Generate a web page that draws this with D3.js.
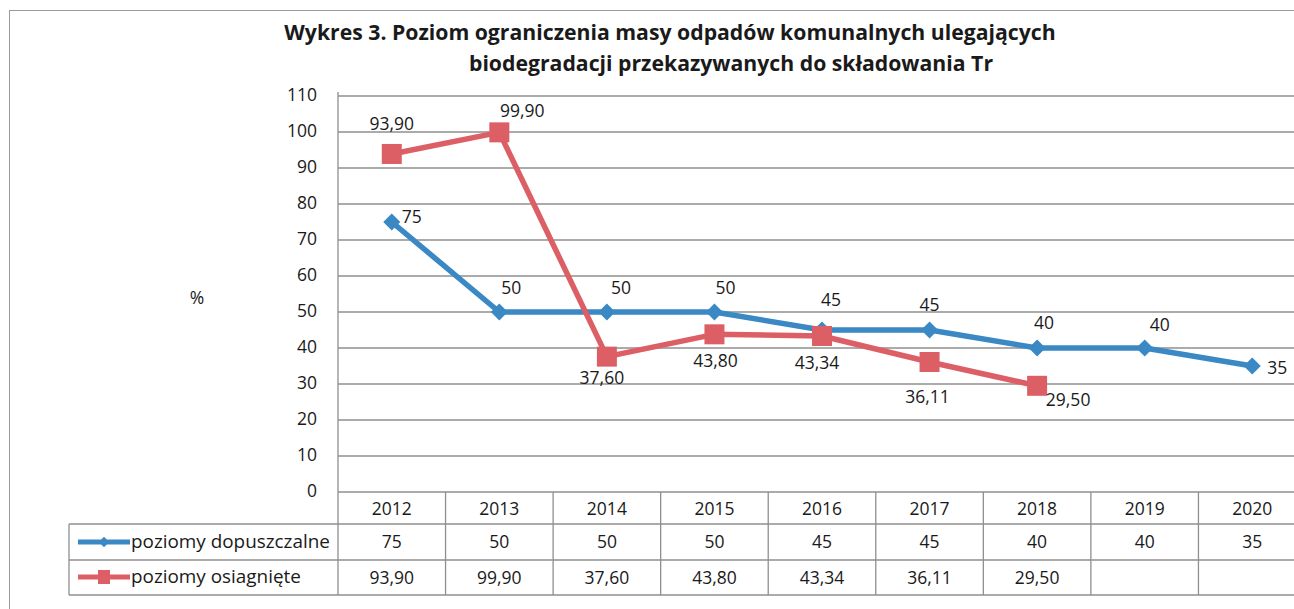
<!DOCTYPE html>
<html><head><meta charset="utf-8">
<script src="https://cdn.jsdelivr.net/npm/d3@7"></script>
<style>
html,body{margin:0;padding:0;background:#fff;}
svg{display:block;}
text{font-family:"Open Sans",sans-serif;fill:#1a1a1a;}
</style></head>
<body>
<svg id="c" width="1294" height="609"></svg>
<script>
const titleLines = ["Wykres 3. Poziom ograniczenia masy odpadów komunalnych ulegających", "biodegradacji przekazywanych do składowania Tr"];
const years = ["2012","2013","2014","2015","2016","2017","2018","2019","2020"];
const seriesNames = ["poziomy dopuszczalne","poziomy osiagnięte"];
const allowed = [75,50,50,50,45,45,40,40,35];
const achieved = [93.90,99.90,37.60,43.80,43.34,36.11,29.50,null,null];
const yTicks = [0,10,20,30,40,50,60,70,80,90,100,110];
const yLabel = "%";
// label placement (dx, dy of label centre relative to point)
const allowedLabelPos = [[20,-5],[12,-24],[14,-24],[11,-24],[9,-30],[0,-25],[7,-25],[15,-23],[25,2]];
const achievedLabelPos = [[0,-30],[23,-21],[-5,21],[1,27],[-5,27],[-2,35],[31,14]];

const fmt = v => v.toFixed(2).replace(".", ",");
const colors = ["#3a89c4", "#dd5f66"];

const svg = d3.select("#c");
const plotL = 338, plotR = 1306, plotT = 96, plotB = 492;
const x = d3.scaleBand().domain(years).range([plotL, plotR]).padding(0);
const y = d3.scaleLinear().domain([0,110]).range([plotB, plotT]);
const cx = d => x(d) + x.bandwidth()/2;
const FS = 17.5;

function fitWidth(sel, target){
  const w = sel.node().getComputedTextLength();
  const fs = parseFloat(sel.attr("font-size"));
  sel.attr("font-size", fs*target/w);
}

// outer frame
svg.append("rect").attr("x",9.5).attr("y",10.5).attr("width",1300).attr("height",620)
  .attr("fill","none").attr("stroke","#9a9a9a").attr("stroke-width",1);

// title
const t1 = svg.append("text").attr("x",670).attr("y",40).attr("text-anchor","middle")
  .attr("font-size",19).attr("font-weight","bold").text(titleLines[0]);
fitWidth(t1, 772);
svg.append("text").attr("x",731).attr("y",71).attr("text-anchor","middle")
  .attr("font-size",t1.attr("font-size")).attr("font-weight","bold").text(titleLines[1]);

// gridlines
svg.append("g").selectAll("line").data(yTicks.filter(t=>t>0)).join("line")
  .attr("x1",plotL).attr("x2",plotR).attr("y1",d=>y(d)).attr("y2",d=>y(d))
  .attr("stroke","#8f8f8f").attr("stroke-width",1.3);

// y axis
const yAxis = d3.axisLeft(y).tickValues(yTicks).tickSize(0).tickPadding(21);
const ga = svg.append("g").attr("transform",`translate(${plotL},0)`).call(yAxis);
ga.select(".domain").remove();
ga.selectAll("text").attr("font-size",FS).attr("font-family","Open Sans").attr("fill","#1a1a1a").attr("dy","0.25em");
svg.append("line").attr("x1",plotL).attr("x2",plotL).attr("y1",plotT-4).attr("y2",plotB)
  .attr("stroke","#8f8f8f").attr("stroke-width",1.3);
svg.append("text").attr("x",197).attr("y",304).attr("text-anchor","middle").attr("font-size",FS).text(yLabel);

// table
const rowH = [plotB, 524, 560, 595];
const tableL = 69;
const tg = svg.append("g").attr("stroke","#8f8f8f").attr("stroke-width",1.3);
tg.append("line").attr("x1",plotL).attr("x2",plotR).attr("y1",rowH[0]).attr("y2",rowH[0]);
[1,2,3].forEach(i => tg.append("line").attr("x1",tableL).attr("x2",plotR).attr("y1",rowH[i]).attr("y2",rowH[i]));
tg.append("line").attr("x1",tableL).attr("x2",tableL).attr("y1",rowH[1]).attr("y2",rowH[3]);
tg.selectAll("line.v").data(years).join("line").attr("class","v")
  .attr("x1",d=>x(d)).attr("x2",d=>x(d)).attr("y1",rowH[0]).attr("y2",rowH[3]);

svg.append("g").selectAll("text").data(years).join("text")
  .attr("x",d=>cx(d)).attr("y",515).attr("text-anchor","middle").attr("font-size",FS).text(d=>d);
svg.append("g").selectAll("text").data(allowed).join("text")
  .attr("x",(d,i)=>cx(years[i])).attr("y",548).attr("text-anchor","middle").attr("font-size",FS).text(d=>d);
svg.append("g").selectAll("text").data(achieved).join("text")
  .attr("x",(d,i)=>cx(years[i])).attr("y",584).attr("text-anchor","middle").attr("font-size",FS).text(d=>d==null?"":fmt(d));

// legend keys in table
let legFS = FS;
[0,1].forEach(i=>{
  const yy = i===0 ? 542 : 577;
  svg.append("line").attr("x1",78).attr("x2",130).attr("y1",yy).attr("y2",yy)
    .attr("stroke",colors[i]).attr("stroke-width",5);
  if(i===0){
    svg.append("path").attr("d",d3.symbol().type(d3.symbolDiamond2).size(70)()).attr("transform",`translate(104,${yy})`).attr("fill",colors[0]);
  } else {
    svg.append("rect").attr("x",98).attr("y",yy-7).attr("width",12).attr("height",14).attr("fill",colors[1]);
  }
  const lt = svg.append("text").attr("x",131).attr("y",yy+6).attr("font-size",legFS).text(seriesNames[i]);
  if(i===0){ fitWidth(lt, 199); legFS = lt.attr("font-size"); }
});

// lines
const line = d3.line().defined(d=>d.v!=null).x(d=>cx(d.k)).y(d=>y(d.v));
const s1 = allowed.map((v,i)=>({k:years[i],v}));
const s2 = achieved.map((v,i)=>({k:years[i],v}));
svg.append("path").datum(s1).attr("d",line).attr("fill","none").attr("stroke",colors[0]).attr("stroke-width",5.5).attr("stroke-linejoin","round");
svg.append("path").datum(s2).attr("d",line).attr("fill","none").attr("stroke",colors[1]).attr("stroke-width",5.5).attr("stroke-linejoin","round");

svg.append("g").selectAll("path").data(s1).join("path")
  .attr("d",d3.symbol().type(d3.symbolDiamond2).size(185)())
  .attr("transform",d=>`translate(${cx(d.k)},${y(d.v)})`).attr("fill",colors[0]);
svg.append("g").selectAll("rect").data(s2.filter(d=>d.v!=null)).join("rect")
  .attr("x",d=>cx(d.k)-10).attr("y",d=>y(d.v)-10).attr("width",20).attr("height",20).attr("fill",colors[1]);

// data labels
svg.append("g").selectAll("text").data(s1).join("text")
  .attr("x",(d,i)=>cx(d.k)+allowedLabelPos[i][0]).attr("y",(d,i)=>y(d.v)+allowedLabelPos[i][1])
  .attr("text-anchor","middle").attr("font-size",FS).attr("dy","0.35em").text(d=>d.v);
svg.append("g").selectAll("text").data(s2.filter(d=>d.v!=null)).join("text")
  .attr("x",(d,i)=>cx(d.k)+achievedLabelPos[i][0]).attr("y",(d,i)=>y(d.v)+achievedLabelPos[i][1])
  .attr("text-anchor","middle").attr("font-size",FS).attr("dy","0.35em").text(d=>fmt(d.v));
</script>
</body></html>
